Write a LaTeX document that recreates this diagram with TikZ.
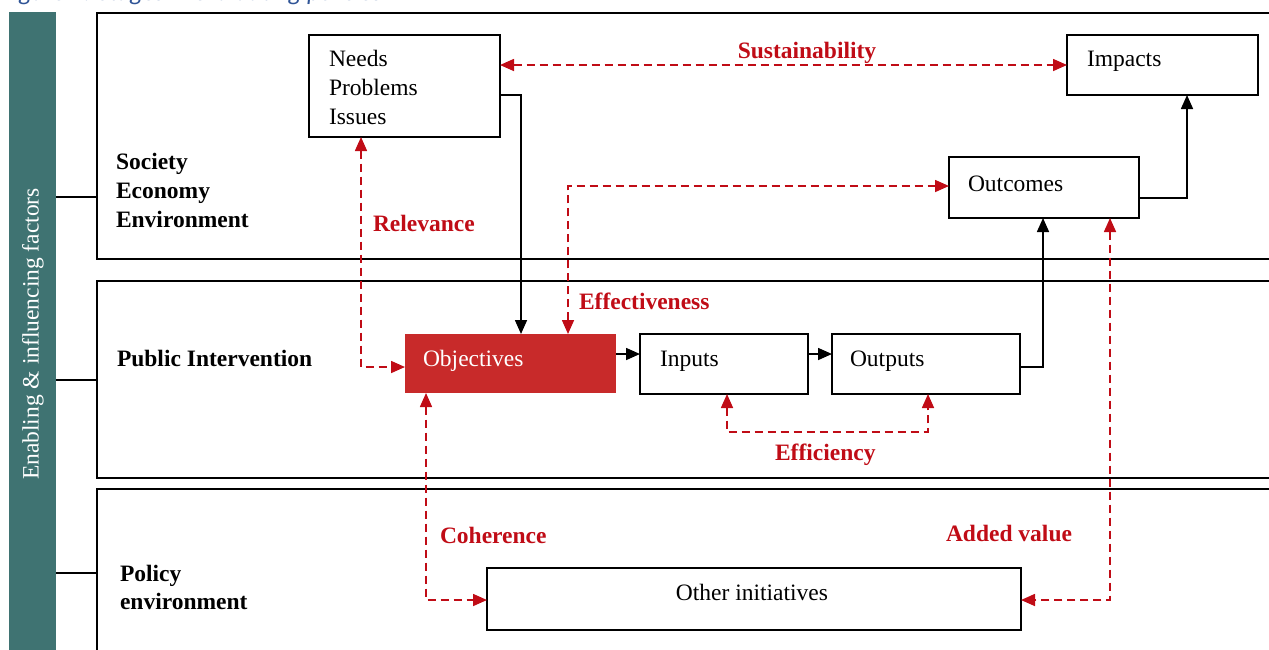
\documentclass[tikz,border=0pt]{standalone}
\usepackage{fontspec}
\setmainfont{Liberation Serif}
\newfontfamily\capfont{Carlito}
\usetikzlibrary{arrows.meta}
\definecolor{barteal}{RGB}{63,115,114}
\definecolor{objred}{RGB}{200,42,42}
\definecolor{critred}{RGB}{192,12,22}
\definecolor{capblue}{RGB}{47,84,150}
\begin{document}
\begin{tikzpicture}[x=1pt,y=-1pt,
  every node/.style={inner sep=0pt, outer sep=0pt, font=\fontsize{23.5}{29}\selectfont},
  box/.style={draw=black, line width=1.6pt, fill=white, anchor=north west},
  band/.style={draw=black, line width=1.6pt, anchor=north west},
  txt/.style={anchor=base west},
  head/.style={anchor=base west, font=\fontsize{23.5}{29}\selectfont\bfseries},
  crit/.style={anchor=base west, text=critred, font=\fontsize{23.5}{29}\selectfont\bfseries},
  flow/.style={draw=black, line width=1.6pt, -{Triangle[length=14pt,width=12pt]}},
  link/.style={draw=critred, line width=1.6pt, dash pattern=on 8pt off 5pt,
    {Triangle[length=14pt,width=12pt]}-{Triangle[length=14pt,width=12pt]}},
  tick/.style={draw=black, line width=1.6pt}
]
\useasboundingbox (0,0) rectangle (1269,649);
\clip (0,0) rectangle (1269,649);

% caption running off the top edge
\node[anchor=base west, text=capblue, font=\capfont\itshape\fontsize{25}{30}\selectfont]
  (caption) at (2,0.5) {Figure 1: Stages in evaluating policies};

% side bar
\node[fill=barteal, anchor=north west, minimum width=47pt, minimum height=660pt] (bar) at (9,12) {};
\node[rotate=90, text=white] (barlabel) at (33,334) {Enabling \& influencing factors};

% three bands
\node[band, minimum width=1190pt, minimum height=246pt] (band1) at (97,13) {};
\node[band, minimum width=1190pt, minimum height=197pt] (band2) at (97,281) {};
\node[band, minimum width=1190pt, minimum height=200pt] (band3) at (97,489) {};

\draw[tick] ([yshift=-185pt]bar.north east) -- ([yshift=-184pt]band1.north west);
\draw[tick] ([yshift=-368pt]bar.north east) -- ([yshift=-99pt]band2.north west);
\draw[tick] ([yshift=-561pt]bar.north east) -- ([yshift=-84pt]band3.north west);

% band headings
\node[head] (h1a) at (116,169) {Society};
\node[head] (h1b) at (116,198) {Economy};
\node[head] (h1c) at (116,227) {Environment};
\node[head] (h2) at (117,366) {Public Intervention};
\node[head] (h3a) at (120,581) {Policy};
\node[head] (h3b) at (120,609) {environment};

% boxes
\node[box, minimum width=191pt, minimum height=102pt] (needs) at (309,35) {};
\node[txt] (needs1) at (329,66) {Needs};
\node[txt] (needs2) at (329,95) {Problems};
\node[txt] (needs3) at (329,124) {Issues};

\node[box, minimum width=191pt, minimum height=60pt] (impacts) at (1067,35) {};
\node[txt] (impactst) at (1087,66) {Impacts};

\node[box, minimum width=190pt, minimum height=61pt] (outcomes) at (949,157) {};
\node[txt] (outcomest) at (968,191) {Outcomes};

\node[fill=objred, anchor=north west, minimum width=211pt, minimum height=59pt] (obj) at (405,334) {};
\node[txt, text=white] (objt) at (423,366) {Objectives};

\node[box, minimum width=168pt, minimum height=60pt] (inputs) at (640,334) {};
\node[txt] (inputst) at (660,366) {Inputs};

\node[box, minimum width=188pt, minimum height=60pt] (outputs) at (832,334) {};
\node[txt] (outputst) at (850,366) {Outputs};

\node[box, minimum width=534pt, minimum height=62pt] (other) at (487,568) {};
\node[anchor=base] (othert) at (752,600) {Other initiatives};

% causal chain
\draw[flow] ([yshift=-60pt]needs.north east) -| ([xshift=116pt]obj.north west);
\draw[flow] ([yshift=-20pt]obj.north east) -- ([yshift=-20pt]inputs.north west);
\draw[flow] ([yshift=-20pt]inputs.north east) -- ([yshift=-20pt]outputs.north west);
\draw[flow] ([yshift=-33pt]outputs.north east) -| ([xshift=94pt]outcomes.south west);
\draw[flow] ([yshift=-41pt]outcomes.north east) -| ([xshift=120pt]impacts.south west);

% evaluation criteria
\draw[link] ([yshift=-30pt]needs.north east) -- ([yshift=-30pt]impacts.north west);
\draw[link] ([xshift=52pt]needs.south west) |- ([yshift=-33pt]obj.north west);
\draw[link] ([xshift=163pt]obj.north west) |- ([yshift=-29pt]outcomes.north west);
\draw[link] ([xshift=87pt]inputs.south west) -- ++(0,38) -| ([xshift=96pt]outputs.south west);
\draw[link] ([xshift=21pt]obj.south west) |- ([yshift=-32pt]other.north west);
\draw[link] ([xshift=161pt]outcomes.south west) |- ([yshift=-32pt]other.north east);

\node[crit, anchor=base] (sust) at (807,58) {Sustainability};
\node[crit] (relev) at (373,231) {Relevance};
\node[crit] (effect) at (579,309) {Effectiveness};
\node[crit] (effic) at (775,460) {Efficiency};
\node[crit] (coher) at (440,543) {Coherence};
\node[crit] (added) at (946,541) {Added value};
\end{tikzpicture}
\end{document}
